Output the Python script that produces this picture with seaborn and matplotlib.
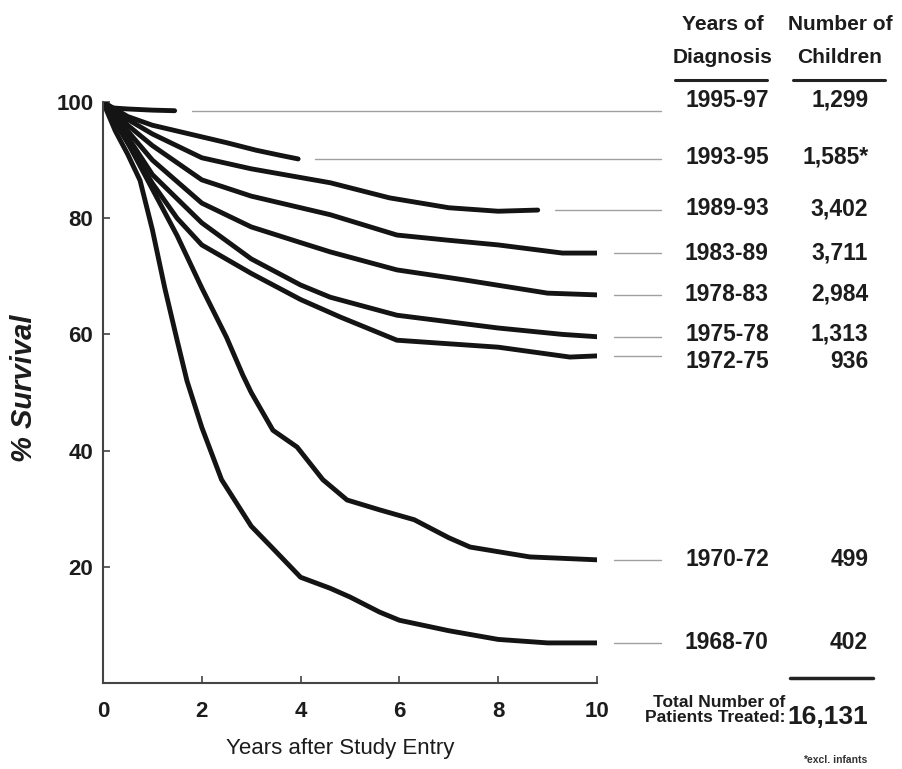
import numpy as np
import pandas as pd
import seaborn as sns
import matplotlib.pyplot as plt

# survival curves (years after entry, % survival)
years_9597 = [0, 0.15, 0.5, 1.0, 1.45]
surv_9597 = [100, 99.0, 98.8, 98.6, 98.5]

years_9395 = [0, 0.5, 1.0, 1.5, 2.0, 2.5, 3.1, 3.6, 3.95]
surv_9395 = [100, 97.5, 96.0, 95.0, 94.0, 93.0, 91.7, 90.8, 90.2]

years_8993 = [0, 0.5, 1, 2, 3, 4, 4.6, 5.8, 7.0, 8.0, 8.8]
surv_8993 = [100, 97, 94.5, 90.4, 88.5, 87.0, 86.1, 83.5, 81.8, 81.2, 81.4]

years_8389 = [0, 0.5, 1, 2, 3, 4, 4.6, 5.95, 7, 8, 9.3, 10]
surv_8389 = [100, 96, 92.5, 86.6, 83.8, 81.8, 80.6, 77.1, 76.2, 75.4, 74.0, 74.0]

years_7883 = [0, 0.5, 1, 2, 3, 4, 4.6, 5.95, 7.3, 9.0, 10]
surv_7883 = [100, 95, 90, 82.6, 78.5, 75.8, 74.2, 71.1, 69.4, 67.1, 66.8]

years_7578 = [0, 0.5, 1, 2, 3, 4, 4.6, 5.95, 8.0, 9.3, 10]
surv_7578 = [100, 94, 87.5, 79.2, 73, 68.5, 66.4, 63.3, 61.1, 60.0, 59.6]

years_7275 = [0, 0.5, 1, 1.5, 2, 3, 4, 4.8, 5.95, 8.0, 9.45, 10]
surv_7275 = [100, 93, 86, 80, 75.4, 70.5, 66.0, 63.0, 59.0, 57.8, 56.1, 56.3]

years_7072 = [0, 0.5, 1.0, 1.5, 2.0, 2.5, 2.83, 3.0, 3.44, 3.93, 4.45, 4.94, 5.6, 6.3, 7.0, 7.43, 8.64, 10]
surv_7072 = [100, 93, 85, 77, 68, 59.5, 53, 50, 43.5, 40.6, 35, 31.5, 29.8, 28.1, 25, 23.4, 21.7, 21.2]

years_6870 = [0, 0.25, 0.5, 0.75, 1.0, 1.25, 1.5, 1.7, 2.0, 2.4, 3.0, 3.4, 4.0, 4.6, 5.0, 5.6, 6.0, 7.0, 8.0, 9.0, 10]
surv_6870 = [100, 95, 91, 86.5, 78, 68, 59, 52, 44, 35, 27, 23.5, 18.2, 16.3, 14.8, 12.2, 10.8, 9.0, 7.5, 6.9, 6.9]

periods = ['1995-97', '1993-95', '1989-93', '1983-89', '1978-83',
           '1975-78', '1972-75', '1970-72', '1968-70']
children = ['1,299', '1,585*', '3,402', '3,711', '2,984',
            '1,313', '936', '499', '402']
total_children = '16,131'

curves = [(years_9597, surv_9597), (years_9395, surv_9395), (years_8993, surv_8993),
          (years_8389, surv_8389), (years_7883, surv_7883), (years_7578, surv_7578),
          (years_7275, surv_7275), (years_7072, surv_7072), (years_6870, surv_6870)]

rows = []
for p, (xs, ys) in zip(periods, curves):
    for x, y in zip(xs, ys):
        rows.append({'period': p, 'years': x, 'survival': y})
df = pd.DataFrame(rows)

sns.set_style('ticks')
plt.rcParams['font.family'] = ['Liberation Sans', 'DejaVu Sans']
ink = '#1c1c1c'

fig = plt.figure(figsize=(9.03, 7.69), dpi=100)
ax = fig.add_axes([103 / 903, 86 / 769, 494 / 903, 581 / 769])

sns.lineplot(data=df, x='years', y='survival', hue='period',
             palette={p: '#141414' for p in periods}, estimator=None,
             sort=False, linewidth=3.5, legend=False, ax=ax)

ax.set_xlim(0, 10)
ax.set_ylim(0, 100)
ax.set_xticks([0, 2, 4, 6, 8, 10])
ax.set_yticks([20, 40, 60, 80, 100])
ax.tick_params(direction='in', length=5, width=1.2, color='#444444', labelcolor=ink)
ax.tick_params(axis='x', pad=13, labelsize=16)
ax.tick_params(axis='y', pad=7, labelsize=16)
for lab in ax.get_xticklabels() + ax.get_yticklabels():
    lab.set_fontweight('bold')
for s in ['top', 'right']:
    ax.spines[s].set_visible(False)
for s in ['left', 'bottom']:
    ax.spines[s].set_color('#444444')
    ax.spines[s].set_linewidth(1.5)

ax.set_xlabel('Years after Study Entry', fontsize=16, color=ink)
ax.xaxis.set_label_coords(0.48, -0.095)
ax.set_ylabel('% Survival', fontsize=21, fontweight='bold', style='italic', color=ink)
ax.yaxis.set_label_coords(-0.132, 0.508)

# leader lines and labels on the right
label_y = [100.3, 90.5, 81.6, 74.0, 66.9, 60.0, 55.4, 21.2, 6.9]
for p, n, (xs, ys), ly in zip(periods, children, curves, label_y):
    ax.plot([xs[-1] + 0.35, 11.3], [ys[-1], ys[-1]], color='#a0a0a0', lw=1.0, clip_on=False)
    ax.text(12.63, ly, p, ha='center', va='center', fontsize=16.5, fontweight='bold',
            color=ink, clip_on=False)
    ax.text(15.49, ly, n, ha='right', va='center', fontsize=16.5, fontweight='bold',
            color=ink, clip_on=False)

for txt, y in [('Years of', 113.4), ('Diagnosis', 107.7)]:
    ax.text(12.55, y, txt, ha='center', va='center', fontsize=15, fontweight='bold',
            color=ink, clip_on=False)
for txt, y in [('Number of', 113.4), ('Children', 107.7)]:
    ax.text(14.92, y, txt, ha='center', va='center', fontsize=15, fontweight='bold',
            color=ink, clip_on=False)
ax.plot([11.58, 13.44], [103.8, 103.8], color='#222222', lw=2.2, clip_on=False)
ax.plot([13.97, 15.83], [103.8, 103.8], color='#222222', lw=2.2, clip_on=False)

ax.plot([13.91, 15.59], [0.86, 0.86], color='#222222', lw=2.5, clip_on=False)
ax.text(13.82, -3.4, 'Total Number of', ha='right', va='center', fontsize=12.5,
        fontweight='bold', color=ink, clip_on=False)
ax.text(13.82, -6.0, 'Patients Treated:', ha='right', va='center', fontsize=12.5,
        fontweight='bold', color=ink, clip_on=False)
ax.text(15.49, -5.85, total_children, ha='right', va='center', fontsize=19,
        fontweight='bold', color=ink, clip_on=False)
ax.text(14.82, -13.2, '*excl. infants', ha='center', va='center', fontsize=7.5,
        fontweight='bold', color='#333333', clip_on=False)

fig.savefig('out.png', dpi=100)
